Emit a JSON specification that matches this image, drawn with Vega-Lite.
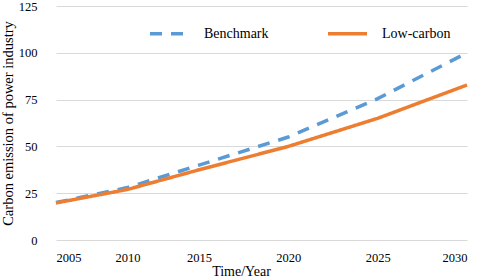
{
  "$schema": "https://vega.github.io/schema/vega-lite/v6.json",
  "width": 428,
  "height": 234,
  "autosize": {"type": "none"},
  "padding": {"left": 47, "top": 6, "right": 5, "bottom": 38},
  "background": "white",
  "config": {
    "view": {"stroke": null},
    "font": "Liberation Serif"
  },
  "data": {
    "values": [
      {"year": 2005, "scenario": "Benchmark", "value": 20},
      {"year": 2010, "scenario": "Benchmark", "value": 28},
      {"year": 2015, "scenario": "Benchmark", "value": 40},
      {"year": 2020, "scenario": "Benchmark", "value": 55},
      {"year": 2025, "scenario": "Benchmark", "value": 75.5},
      {"year": 2030, "scenario": "Benchmark", "value": 100},
      {"year": 2005, "scenario": "Low-carbon", "value": 19.8},
      {"year": 2010, "scenario": "Low-carbon", "value": 27},
      {"year": 2015, "scenario": "Low-carbon", "value": 37.5},
      {"year": 2020, "scenario": "Low-carbon", "value": 50},
      {"year": 2025, "scenario": "Low-carbon", "value": 65},
      {"year": 2030, "scenario": "Low-carbon", "value": 82.8}
    ]
  },
  "mark": {"type": "line", "strokeWidth": 3.5},
  "encoding": {
    "x": {
      "field": "year",
      "type": "quantitative",
      "scale": {"domain": [2005, 2015, 2030], "range": [9, 152, 420], "zero": false, "nice": false},
      "axis": {
        "values": [2005, 2010, 2015, 2020, 2025, 2030],
        "format": "d",
        "grid": false,
        "domain": false,
        "ticks": false,
        "labelFont": "Liberation Serif",
        "labelColor": "#000000",
        "labelFontSize": 12.5,
        "labelPadding": 11,
        "title": "Time/Year",
        "titleFont": "Liberation Serif",
        "titleColor": "#000000",
        "titleFontWeight": "normal",
        "titleFontSize": 14,
        "titlePadding": 1,
        "titleX": 194
      }
    },
    "y": {
      "field": "value",
      "type": "quantitative",
      "scale": {"domain": [0, 125], "nice": false},
      "axis": {
        "values": [0, 25, 50, 75, 100, 125],
        "grid": true,
        "gridColor": "#d9d9d9",
        "gridWidth": 1,
        "domain": false,
        "ticks": false,
        "labelFont": "Liberation Serif",
        "labelColor": "#000000",
        "labelFontSize": 12.5,
        "labelPadding": 10,
        "title": "Carbon emission of power industry",
        "titleFont": "Liberation Serif",
        "titleColor": "#000000",
        "titleFontWeight": "normal",
        "titleFontSize": 14.5,
        "titlePadding": 3
      }
    },
    "color": {
      "field": "scenario",
      "type": "nominal",
      "scale": {"domain": ["Benchmark", "Low-carbon"], "range": ["#5b9bd5", "#ed7d31"]},
      "legend": {
        "title": null,
        "orient": "none",
        "direction": "horizontal",
        "legendX": 101,
        "legendY": 6,
        "symbolType": "stroke",
        "symbolSize": 1521,
        "symbolStrokeWidth": 3.5,
        "labelFontSize": 14,
        "labelFont": "Liberation Serif",
        "labelColor": "#000000",
        "labelOffset": 13,
        "columnPadding": 52
      }
    },
    "strokeDash": {
      "field": "scenario",
      "type": "nominal",
      "scale": {"domain": ["Benchmark", "Low-carbon"], "range": [[12, 9], [1, 0]]},
      "legend": null
    }
  }
}
